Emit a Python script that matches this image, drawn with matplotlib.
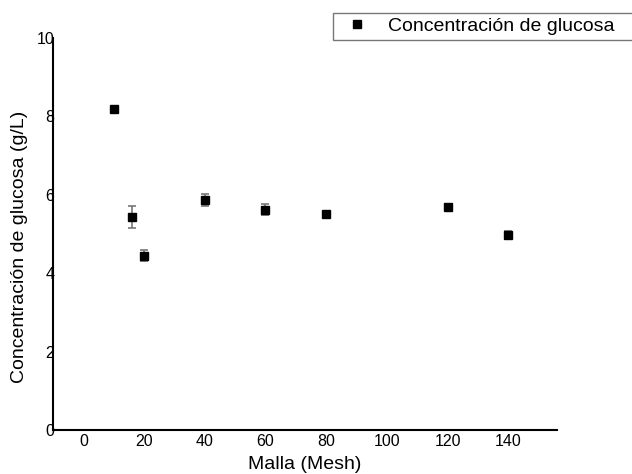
import matplotlib
matplotlib.use("Agg")
import matplotlib.pyplot as plt

plt.rcParams["font.family"] = ["Liberation Sans", "DejaVu Sans"]

mesh = [10, 16, 20, 40, 60, 80, 120, 140]
glucose = [8.18, 5.43, 4.44, 5.87, 5.62, 5.51, 5.69, 4.97]
glucose_err = [0.0, 0.28, 0.14, 0.15, 0.15, 0.04, 0.07, 0.1]

x_ticks = [0, 20, 40, 60, 80, 100, 120, 140]
y_ticks = [0, 2, 4, 6, 8, 10]

fig = plt.figure(figsize=(6.32, 4.74), dpi=100)
ax = fig.add_axes([0.084, 0.093, 0.797, 0.827])

ax.errorbar(mesh, glucose, yerr=glucose_err, fmt="s", color="black",
            markersize=6, ecolor="#777777", elinewidth=1.2, capsize=3,
            capthick=1.2, label="Concentración de glucosa")

ax.set_xlim(-10, 156)
ax.set_ylim(0, 10)
ax.set_xticks(x_ticks)
ax.set_yticks(y_ticks)
ax.tick_params(axis="both", length=0, labelsize=11.5)
ax.tick_params(axis="y", pad=-1)
ax.tick_params(axis="x", pad=3)
for side in ["top", "right"]:
    ax.spines[side].set_visible(False)
for side in ["left", "bottom"]:
    ax.spines[side].set_linewidth(1.5)

ax.set_xlabel("Malla (Mesh)", fontsize=14, labelpad=5)
ax.set_ylabel("Concentración de glucosa (g/L)", fontsize=14)
ax.yaxis.set_label_coords(-0.05, 0.467)

# legend box runs off the right edge like in the original
handle = plt.Line2D([], [], marker="s", color="black", linestyle="none", markersize=6)
leg = fig.legend([handle], ["Concentración de glucosa"], loc="upper left",
                 bbox_to_anchor=(0.527, 0.973, 0.49, 0), mode="expand",
                 fontsize=14, frameon=True, fancybox=False, edgecolor="#555555",
                 borderpad=0.25, handletextpad=0.6, borderaxespad=0)
leg.get_frame().set_linewidth(1.0)

fig.savefig("out.png", dpi=100)
